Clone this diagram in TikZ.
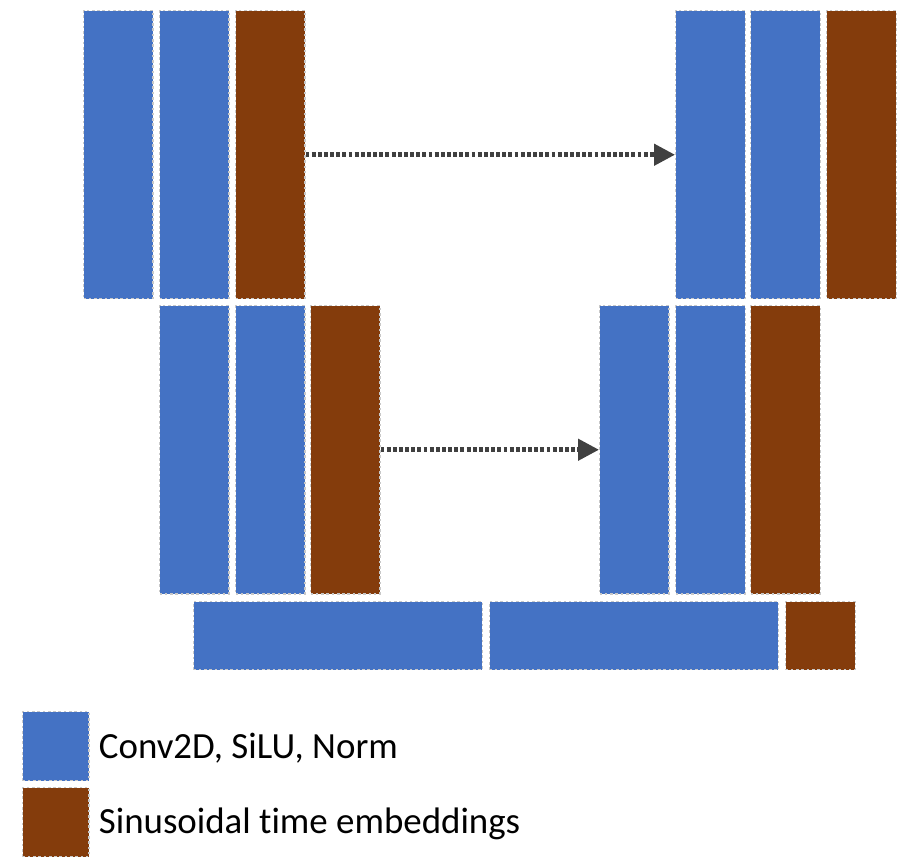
\documentclass[tikz,border=0pt]{standalone}
\usepackage{fontspec}
\setmainfont[Ligatures=NoCommon]{Carlito}
\usetikzlibrary{arrows.meta}

\definecolor{convblue}{HTML}{4472C4}
\definecolor{timebrown}{HTML}{843C0C}
\definecolor{edgegray}{HTML}{C8C8C8}
\definecolor{arrowgray}{HTML}{404040}

\tikzset{block/.style={draw=edgegray,dashed,dash pattern=on 1.5pt off 1.5pt,line width=0.6pt,anchor=north west,inner sep=0pt,minimum width=1.39cm,minimum height=5.77cm},
         conv/.style={block,fill=convblue},
         embed/.style={block,fill=timebrown},
         skip/.style={arrowgray,line width=2.6pt,dash pattern=on 2.2pt off 1.3pt,-{Triangle[length=0.42cm,width=0.42cm]}}}

\begin{document}
\begin{tikzpicture}[x=0.02cm,y=-0.02cm]
        \useasboundingbox (0,0) rectangle (908,864);
        % encoder
        \node[conv]  (e1a) at (83,10) {};
        \node[conv]  (e1b) at (159,10) {};
        \node[embed] (e1c) at (235,10) {};
        \node[conv]  (e2a) at (159,305) {};
        \node[conv]  (e2b) at (235,305) {};
        \node[embed] (e2c) at (310,305) {};
        % bottleneck
        \node[conv,minimum width=5.78cm,minimum height=1.36cm]  (m1) at (193,601) {};
        \node[conv,minimum width=5.78cm,minimum height=1.36cm]  (m2) at (489,601) {};
        \node[embed,minimum height=1.36cm] (m3) at (785,601) {};
        % decoder
        \node[conv]  (d2a) at (599,305) {};
        \node[conv]  (d2b) at (675,305) {};
        \node[embed] (d2c) at (750,305) {};
        \node[conv]  (d1a) at (675,10) {};
        \node[conv]  (d1b) at (750,10) {};
        \node[embed] (d1c) at (826,10) {};
        % skip connections
        \draw[skip] (e1c.east) -- (d1a.west);
        \draw[skip] (e2c.east) -- (d2a.west);
        % legend
        \node[conv,minimum width=1.33cm,minimum height=1.38cm]  (lconv) at (22,711) {};
        \node[embed,minimum width=1.33cm,minimum height=1.38cm] (lembed) at (22,787) {};
        \node[anchor=west,font=\fontsize{21}{25}\selectfont,inner sep=0pt] at ([xshift=0.18cm,yshift=-0.05cm]lconv.east) {Conv2D, SiLU, Norm};
        \node[anchor=west,font=\fontsize{21}{25}\selectfont,inner sep=0pt] at ([xshift=0.18cm,yshift=-0.03cm]lembed.east) {Sinusoidal t\kern0pt ime embeddings};
    \end{tikzpicture}
\end{document}
